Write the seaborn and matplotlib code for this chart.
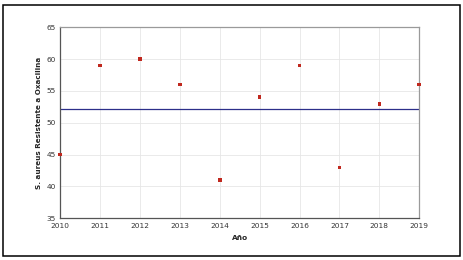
import matplotlib
matplotlib.use("Agg")
import matplotlib.pyplot as plt
import seaborn as sns
import pandas as pd
from matplotlib.patches import Rectangle

# data
years = [2010, 2011, 2012, 2013, 2014, 2015, 2016, 2017, 2018, 2019]
resistance = [45, 59, 60, 56, 41, 54, 59, 43, 53, 56]
reference_level = 52.1

df = pd.DataFrame({"Año": years, "Resistencia": resistance})

sns.set_style("white")
plt.rcParams['font.family'] = ['DejaVu Sans']

fig = plt.figure(figsize=(4.64, 2.6), dpi=100)
ax = fig.add_axes([0.1293, 0.1604, 0.7744, 0.7346])

# outer frame around the whole chart
fig.patches.append(Rectangle((2.5 / 464, 4.5 / 260), 457.5 / 464, 250.5 / 260,
                             transform=fig.transFigure, fill=False,
                             edgecolor='black', linewidth=1.1))

sns.scatterplot(data=df, x="Año", y="Resistencia", ax=ax, marker='s', s=7,
                color='#c0281e', edgecolor='none', zorder=3, clip_on=False)
ax.axhline(reference_level, color='#2c2f8a', linewidth=0.9, zorder=2)

ax.set_xlim(2010, 2019)
ax.set_ylim(35, 65)
ax.set_xticks(years)
ax.set_yticks(range(35, 66, 5))
ax.grid(True, color='#e6e6e6', linewidth=0.6)
ax.set_axisbelow(True)

for side in ['left', 'bottom']:
    ax.spines[side].set_color('#555555')
    ax.spines[side].set_linewidth(0.9)
for side in ['top', 'right']:
    ax.spines[side].set_color('#9a9a9a')
    ax.spines[side].set_linewidth(0.9)

ax.tick_params(axis='both', labelsize=5.3, colors='#555555', length=2, width=0.6,
               pad=1.5, labelcolor='#333333')
ax.tick_params(axis='y', pad=1)

ax.set_xlabel('Año', fontsize=5.3, fontweight='bold', labelpad=4)
ax.set_ylabel('S. aureus Resistente a Oxacilina', fontsize=5.2, fontweight='bold',
              labelpad=3)

fig.savefig('out.png', dpi=100)
